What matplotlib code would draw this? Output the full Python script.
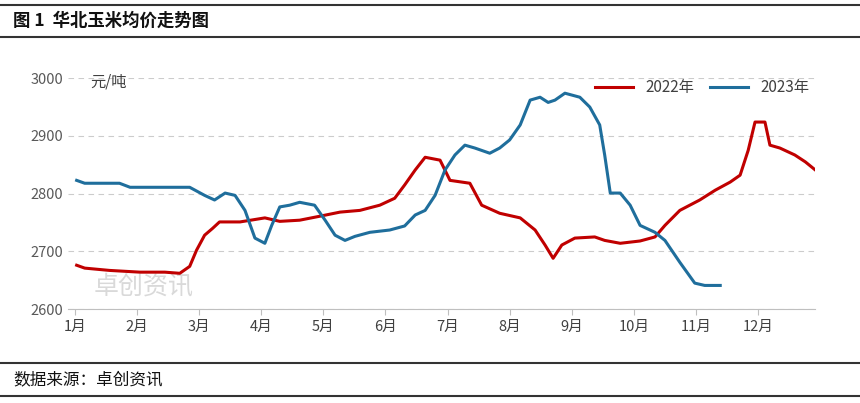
import matplotlib
matplotlib.use("Agg")
import matplotlib.pyplot as plt
from matplotlib.lines import Line2D

plt.rcParams["font.family"] = ["Noto Sans CJK SC", "DejaVu Sans"]

months = ["1月","2月","3月","4月","5月","6月","7月","8月","9月","10月","11月","12月"]
x2022 = [0.03,0.16,0.56,1.05,1.45,1.69,1.85,1.96,2.09,2.22,2.33,2.66,3.06,3.30,3.62,3.95,4.27,4.59,4.91,5.15,5.31,5.48,5.64,5.88,6.04,6.36,6.55,6.84,7.17,7.41,7.57,7.70,7.84,8.05,8.37,8.53,8.78,9.10,9.34,9.50,9.74,10.06,10.31,10.55,10.71,10.84,10.95,11.11,11.19,11.35,11.59,11.76,11.92]
y2022 = [2676,2671,2667,2664,2664,2662,2674,2702,2728,2740,2751,2751,2758,2752,2754,2761,2768,2771,2780,2792,2815,2841,2863,2858,2823,2818,2780,2766,2758,2737,2711,2688,2711,2723,2725,2719,2714,2718,2725,2745,2771,2789,2806,2820,2832,2875,2924,2924,2884,2879,2867,2855,2841]
x2023 = [0.03,0.16,0.72,0.89,1.37,1.85,2.09,2.25,2.42,2.58,2.74,2.90,3.06,3.17,3.30,3.46,3.62,3.86,4.03,4.19,4.35,4.51,4.75,5.07,5.31,5.48,5.64,5.80,5.96,6.12,6.28,6.44,6.68,6.84,7.00,7.17,7.33,7.49,7.62,7.73,7.89,8.13,8.29,8.45,8.53,8.62,8.78,8.94,9.10,9.34,9.50,9.74,9.98,10.14,10.39]
y2023 = [2823,2818,2818,2811,2811,2811,2797,2789,2801,2797,2771,2723,2714,2745,2777,2780,2785,2780,2754,2728,2719,2726,2733,2737,2744,2763,2771,2797,2841,2867,2884,2879,2870,2879,2893,2919,2962,2967,2958,2962,2974,2967,2950,2919,2867,2801,2801,2780,2745,2733,2719,2681,2645,2641,2641]
yticks = [2600, 2700, 2800, 2900, 3000]

fig = plt.figure(figsize=(8.6, 4.03), dpi=100)
ax = fig.add_axes([0.079, 0.233, 0.869, 0.573])
ax.plot(x2022, y2022, color="#C00000", lw=2.2, label="2022年")
ax.plot(x2023, y2023, color="#1F6E9C", lw=2.2, label="2023年")
ax.set_xlim(-0.11, 11.92)
ax.set_ylim(2600, 3000)
ax.set_yticks(yticks)
ax.set_xticks(range(12))
ax.set_xticklabels(months)
ax.grid(axis="y", color="#cccccc", ls=(0, (5, 4)), lw=0.8)
for s in ["top", "right", "left"]:
    ax.spines[s].set_visible(False)
ax.spines["bottom"].set_color("#bfbfbf")
ax.tick_params(axis="y", length=0, colors="#595959", labelsize=10.5)
ax.tick_params(axis="x", length=4, color="#bfbfbf", colors="#404040", labelsize=10.5)
ax.text(0.03, 0.985, "元/吨", transform=ax.transAxes, fontsize=11, color="#404040", va="center")
ax.text(0.035, 0.04, "卓创资讯", transform=ax.transAxes, fontsize=18, color="#d9d9d9", va="bottom", zorder=0)
ax.legend(loc="upper right", bbox_to_anchor=(1.01, 1.055), ncol=2, frameon=False, fontsize=11,
          handlelength=2.5, columnspacing=1.0, labelcolor="#404040")

fig.add_artist(Line2D([0, 1], [1 - 5/403]*2, color="#333333", lw=1.5))
fig.add_artist(Line2D([0, 1], [1 - 37/403]*2, color="#333333", lw=1.5))
fig.add_artist(Line2D([0, 1], [1 - 363/403]*2, color="#333333", lw=1.5))
fig.add_artist(Line2D([0, 1], [1 - 396/403]*2, color="#333333", lw=1.5))
fig.text(0.015, 1 - 21/403, "图 1  华北玉米均价走势图", fontsize=12.5, fontweight="bold", va="center", color="#111111")
fig.text(0.015, 1 - 380/403, "数据来源：卓创资讯", fontsize=12, va="center", color="#111111")

fig.savefig("out.png", dpi=100)
